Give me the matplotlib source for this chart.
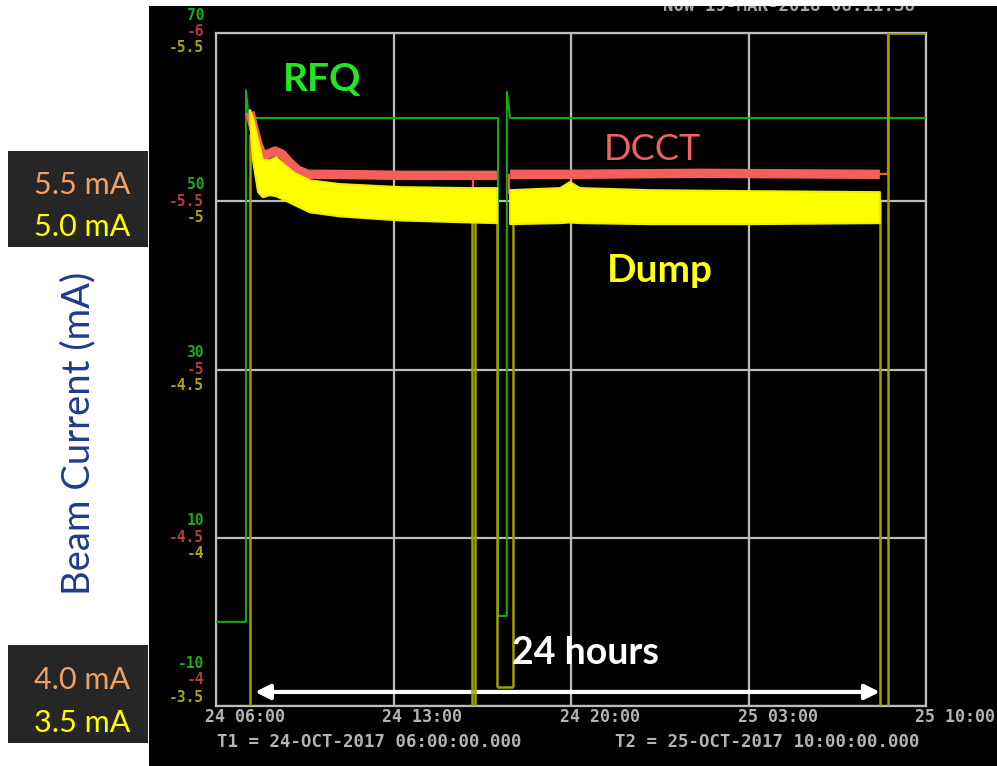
import numpy as np
import matplotlib
matplotlib.use('Agg')
import matplotlib.pyplot as plt
from matplotlib.patches import Rectangle
from matplotlib import transforms

# figure size in pixels
W, H = 997, 766

def fx(x):
    return x / W

def fy(y):
    return 1 - y / H

# time axis: hours since 24-OCT-2017 06:00
xtick_hours = [0, 7, 14, 21, 28]
xtick_labels = ['24 06:00', '24 13:00', '24 20:00', '25 03:00', '25 10:00']

# the three left scales (bottom -> top gridline)
rfq_labels = ['-10', '10', '30', '50', '70']
dcct_labels = ['-4', '-4.5', '-5', '-5.5', '-6']
dump_labels = ['-3.5', '-4', '-4.5', '-5', '-5.5']

# RFQ power trace
rfq_t = [0, 1.18, 1.18, 1.30, 11.12, 11.12, 11.47, 11.47, 11.60, 28]
rfq_v = [0, 0, 63.2, 59.9, 59.9, 0.7, 0.7, 63.0, 59.9, 59.9]

# DCCT beam current (beam on)
dcct_t = [1.34, 1.46, 1.66, 1.85, 2.05, 2.33, 2.60, 2.92, 3.23, 3.63, 4.50,
          7.26, 10.02, 11.08, 11.30, 11.60, 13.96, 19.09, 26.18]
dcct_v = [-5.765, -5.726, -5.667, -5.634, -5.640, -5.649, -5.640, -5.613, -5.592,
          -5.580, -5.580, -5.577, -5.577, -5.577, np.nan, -5.580, -5.580, -5.583, -5.580]
dcct_dip_t = [10.14, 11.55]
dcct_dip_v = [-5.497, -5.524]
dcct_tail_t = [26.18, 26.50, 26.50, 28.0]
dcct_tail_v = [-5.58, -5.58, -6.0, -6.0]

# Dump current band (upper / lower envelope of the noisy trace)
dump_t = [1.34, 1.46, 1.66, 1.85, 2.13, 2.37, 2.72, 3.12, 3.71, 4.89, 7.26, 10.02,
          11.08, 11.30, 11.60, 13.57, 13.96, 14.35, 17.12, 21.06, 26.18]
dump_hi = [-5.271, -5.247, -5.182, -5.122, -5.122, -5.131, -5.107, -5.083, -5.062,
           -5.051, -5.042, -5.039, -5.039, np.nan, -5.033, -5.039, -5.057, -5.039,
           -5.033, -5.030, -5.027]
dump_lo = [-5.247, -5.122, -5.027, -5.012, -5.018, -5.015, -5.003, -4.988, -4.967,
           -4.955, -4.943, -4.937, -4.935, np.nan, -4.932, -4.935, -4.937, -4.935,
           -4.932, -4.932, -4.935]
# Dump on/off jumps (vertical strokes) and the flat off-levels
dump_jump_t = [1.34, 10.10, 10.22, 11.08, 11.71, 26.18, 26.50]
dump_jump_from = [-3.4, -5.0, -5.0, -5.0, -5.0, -5.0, -3.4]
dump_jump_to = [-5.2, -3.4, -3.4, -3.556, -3.556, -3.4, -5.5]
dump_flat_v = [-3.556, -5.5]
dump_flat_t0 = [11.08, 26.50]
dump_flat_t1 = [11.71, 28.0]

fig = plt.figure(figsize=(W / 100, H / 100), dpi=100)
fig.patch.set_facecolor('white')

# black scope panel
bg = fig.add_axes([fx(149), 0, 1 - fx(149), fy(6)])
bg.set_facecolor('black')
bg.set_xticks([])
bg.set_yticks([])
for s in bg.spines.values():
    s.set_visible(False)
bg.text((663 - 149) / 848, 1.0, 'NOW 19-MAR-2018 08:11:38', transform=bg.transAxes,
        ha='left', va='center', color='#a8a8a8', fontsize=12.5,
        family='DejaVu Sans Mono', fontweight='bold', clip_on=True)

# plot area
ax = fig.add_axes([fx(216), fy(706), fx(710), (706 - 33) / H])
ax.set_facecolor('black')
ax.set_xlim(0, 28)
ax.set_ylim(-10, 70)
ax.set_xticks(xtick_hours)
ax.set_yticks([-10, 10, 30, 50, 70])
ax.set_axisbelow(True)
ax.grid(color='#bdbdbd', lw=1.6)
ax.tick_params(length=0, labelbottom=False, labelleft=False)
for s in ax.spines.values():
    s.set_color('#bdbdbd')
    s.set_linewidth(1.6)

ax_red = ax.twinx()
ax_red.set_ylim(-4, -6)
ax_yel = ax.twinx()
ax_yel.set_ylim(-3.5, -5.5)
for a in (ax_red, ax_yel):
    a.set_yticks([])
    a.patch.set_visible(False)
    for s in a.spines.values():
        s.set_visible(False)

# traces
ax.plot(rfq_t, rfq_v, color='#14b014', lw=1.4, zorder=3)
ax_yel.vlines(dump_jump_t, dump_jump_from, dump_jump_to, color='#a0a000', lw=1.8, zorder=2)
ax_yel.hlines(dump_flat_v, dump_flat_t0, dump_flat_t1, color='#a0a000', lw=1.8, zorder=2)

t = np.array(dump_t)
hi = np.array(dump_hi)
lo = np.array(dump_lo)
ok = np.isfinite(hi)
ax_yel.fill_between(t, hi, lo, where=ok, color='#ffff00', lw=1.5, edgecolor='#f0f000', zorder=3)

ax_red.plot(dcct_t, dcct_v, color='#f25f5c', lw=6.8, solid_capstyle='butt', zorder=4)
for dt, dv in zip(dcct_dip_t, dcct_dip_v):
    ax_red.plot([dt, dt], [-5.577, dv], color='#e85a58', lw=1.6, zorder=4)
ax_red.plot(dcct_tail_t, dcct_tail_v, color='#c8782a', lw=1.6, zorder=4)

# y tick labels of the three scales, stacked at each gridline
trans = transforms.blended_transform_factory(ax.transAxes, ax.transAxes)
for i in range(5):
    frac = i / 4
    if i == 0:
        offs = (43, 26, 9)
    elif i == 4:
        offs = (18, 1, -15)
    else:
        offs = (17, 0, -16)
    for lab, col, off in zip((rfq_labels[i], dcct_labels[i], dump_labels[i]),
                             ('#20a820', '#b83c3c', '#a8a800'), offs):
        tr = transforms.offset_copy(trans, fig=fig, x=-12, y=off, units='dots')
        ax.text(0, frac, lab, transform=tr, ha='right', va='center', color=col,
                fontsize=10.5, family='DejaVu Sans Mono', fontweight='bold')

# x tick labels
xtrans = transforms.blended_transform_factory(ax.transData, ax.transAxes)
xtr = transforms.offset_copy(xtrans, fig=fig, x=-11, y=-11, units='dots')
for h, lab in zip(xtick_hours, xtick_labels):
    ax.text(h, 0, lab, transform=xtr, ha='left', va='center', color='#b4b4b4',
            fontsize=12, family='DejaVu Sans Mono', fontweight='bold', clip_on=False)

fig.text(fx(217), fy(742), 'T1 = 24-OCT-2017 06:00:00.000', ha='left', va='center',
         color='#b4b4b4', fontsize=12.5, family='DejaVu Sans Mono', fontweight='bold')
fig.text(fx(615), fy(742), 'T2 = 25-OCT-2017 10:00:00.000', ha='left', va='center',
         color='#b4b4b4', fontsize=12.5, family='DejaVu Sans Mono', fontweight='bold')

# trace names and the 24 hours arrow
fig.text(fx(322), fy(79), 'RFQ', ha='center', va='center', color='#22e622',
         fontsize=28, family='Lato', fontweight='bold')
fig.text(fx(652), fy(149), 'DCCT', ha='center', va='center', color='#f06262',
         fontsize=26, family='Lato')
fig.text(fx(660), fy(270), 'Dump', ha='center', va='center', color='#ffff10',
         fontsize=28, family='Lato', fontweight='bold')
fig.text(fx(585), fy(653), '24 hours', ha='center', va='center', color='white',
         fontsize=27, family='Lato', fontweight='bold')
ax.annotate('', xy=(26.18, -8.33), xytext=(1.54, -8.33),
            arrowprops=dict(arrowstyle='<|-|>', color='white', lw=3, mutation_scale=22,
                            shrinkA=0, shrinkB=0), zorder=6)

# left label boxes
for y0, y1 in ((151, 247), (645, 743)):
    fig.add_artist(Rectangle((fx(8), fy(y1)), fx(140), (y1 - y0) / H,
                             transform=fig.transFigure, facecolor='#262626', edgecolor='none'))
fig.text(fx(82), fy(185), '5.5 mA', ha='center', va='center', color='#f0a062', fontsize=22, family='Lato')
fig.text(fx(82), fy(227), '5.0 mA', ha='center', va='center', color='#ffff00', fontsize=22, family='Lato')
fig.text(fx(82), fy(680), '4.0 mA', ha='center', va='center', color='#f0a062', fontsize=22, family='Lato')
fig.text(fx(82), fy(723), '3.5 mA', ha='center', va='center', color='#ffff00', fontsize=22, family='Lato')

fig.text(fx(78), fy(433), 'Beam Current (mA)', rotation=90, ha='center', va='center',
         color='#1f3c8c', fontsize=27.5, family='Lato')

fig.savefig('out.png', dpi=100, facecolor='white')
